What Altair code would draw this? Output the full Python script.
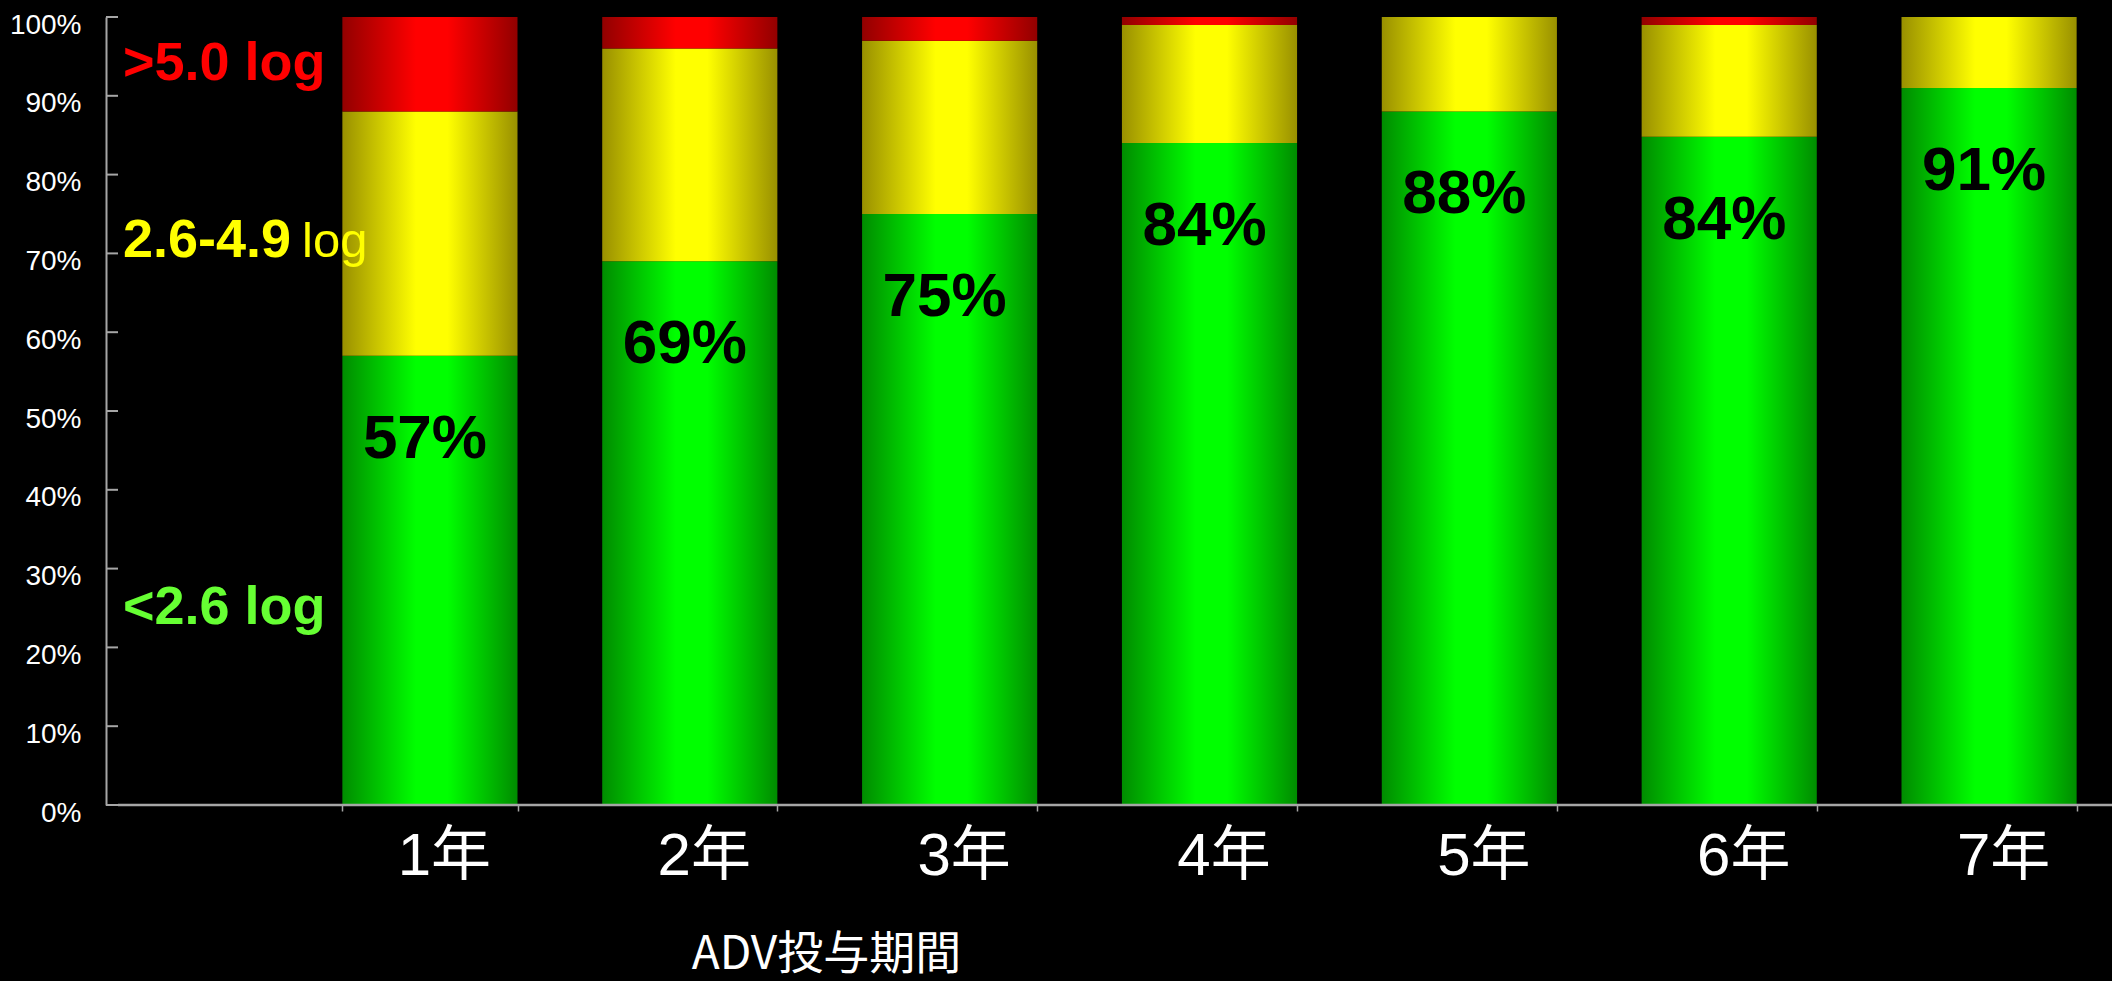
import altair as alt
import pandas as pd

# ---- data ----
years = ["1年", "2年", "3年", "4年", "5年", "6年", "7年"]
green = [57, 69, 75, 84, 88, 84.8, 91]      # <2.6 log
yellow = [31, 27, 22, 15, 12, 14.2, 9]      # 2.6-4.9 log
red = [12, 4, 3, 1, 0, 1, 0]                # >5.0 log
bar_labels = ["57%", "69%", "75%", "84%", "88%", "84%", "91%"]
y_ticks = [0, 10, 20, 30, 40, 50, 60, 70, 80, 90, 100]

df = pd.DataFrame({"year": years, "green": green, "yellow": yellow,
                   "red": red, "label": bar_labels})
df["g0"] = 0
df["g1"] = df["green"]
df["y1"] = df["green"] + df["yellow"]
df["r1"] = df["y1"] + df["red"]

W, H = 2006, 788
AXIS_GRAY = "#A6A6A6"


def grad(dark, bright):
    return alt.Gradient(
        gradient="linear", x1=0, x2=1, y1=0, y2=0,
        stops=[alt.GradientStop(offset=0, color=dark),
               alt.GradientStop(offset=0.42, color=bright),
               alt.GradientStop(offset=0.6, color=bright),
               alt.GradientStop(offset=1, color=dark)])


y_scale = alt.Scale(domain=[0, 100], nice=False)
x_scale = alt.Scale(range=[194, 2013], paddingInner=0.326, paddingOuter=0.163)

x_axis = alt.Axis(
    title="ADV投与期間", labelAngle=0, domain=False,
    ticks=True, tickBand="extent", tickColor=AXIS_GRAY, tickSize=6, tickWidth=1.5,
    labelColor="white", labelFont="Liberation Sans, Noto Sans CJK JP",
    labelFontSize=60, labelBaseline="alphabetic", labelPadding=63, labelOffset=14,
    titleColor="white", titleFont="Noto Sans CJK JP", titleFontSize=46,
    titleFontWeight="normal", titleX=720, titleY=163, titleAlign="center",
    titleBaseline="alphabetic")

y_axis = alt.Axis(
    values=y_ticks, labelExpr="datum.value + '%'", ticks=False, grid=False,
    domain=True, domainColor=AXIS_GRAY, domainWidth=2,
    labelColor="white", labelFont="Liberation Sans", labelFontSize=28,
    labelPadding=25, labelOffset=8, title=None)


def X():
    return alt.X("year:N", sort=years, scale=x_scale, axis=x_axis)


def Y(field):
    return alt.Y(field, scale=y_scale, axis=y_axis)


base = alt.Chart(df)

green_bars = base.mark_bar(color=grad("#008C00", "#00FF00")).encode(
    x=X(), y=Y("g0:Q"), y2="g1:Q")
yellow_bars = base.mark_bar(color=grad("#999000", "#FFFF00")).encode(
    x=X(), y=Y("g1:Q"), y2="y1:Q")
red_bars = base.mark_bar(color=grad("#920000", "#FF0000")).encode(
    x=X(), y=Y("y1:Q"), y2="r1:Q")

bar_text = base.transform_calculate(ly="datum.green - 10.5").mark_text(
    font="Liberation Sans", fontSize=62, fontWeight="bold", color="black",
    baseline="middle", align="center", dx=-5).encode(
    x=X(), y=Y("ly:Q"), text="label:N")

tick_df = pd.DataFrame({"v": y_ticks})
y_tick_rules = alt.Chart(tick_df).mark_rule(color=AXIS_GRAY, strokeWidth=2).encode(
    y=Y("v:Q"), x=alt.value(0), x2=alt.value(12))

x_line = alt.Chart(pd.DataFrame({"v": [0]})).mark_rule(
    color=AXIS_GRAY, strokeWidth=2.5).encode(
    y=Y("v:Q"), x=alt.value(12), x2=alt.value(W))

# legend-like annotations
legend_df = pd.DataFrame({
    "t": [">5.0 log", "2.6-4.9", "<2.6 log"],
    "pos": [92.0, 69.5, 23.0],
    "c": ["#FF0000", "#FFFF00", "#66FF33"]})
legend_bold = alt.Chart(legend_df).mark_text(
    font="Liberation Sans", fontSize=54, fontWeight="bold",
    align="left", baseline="alphabetic").encode(
    x=alt.value(17), y=Y("pos:Q"),
    text="t:N", color=alt.Color("c:N", scale=None))
legend_log = alt.Chart(pd.DataFrame({"t": ["log"], "pos": [69.5]})).mark_text(
    font="Liberation Sans", fontSize=49, fontWeight="normal", color="#FFFF00",
    align="left", baseline="alphabetic").encode(
    x=alt.value(196), y=Y("pos:Q"), text="t:N")

chart = alt.layer(
    green_bars, yellow_bars, red_bars, x_line, y_tick_rules,
    bar_text, legend_bold, legend_log
).properties(
    width=W, height=H, background="black",
    padding={"left": 106, "top": 17, "right": 0, "bottom": 176},
    autosize=alt.AutoSizeParams(type="none")
).configure_view(strokeOpacity=0)

chart.save("out.html", embed_options={"renderer": "svg", "actions": False})
